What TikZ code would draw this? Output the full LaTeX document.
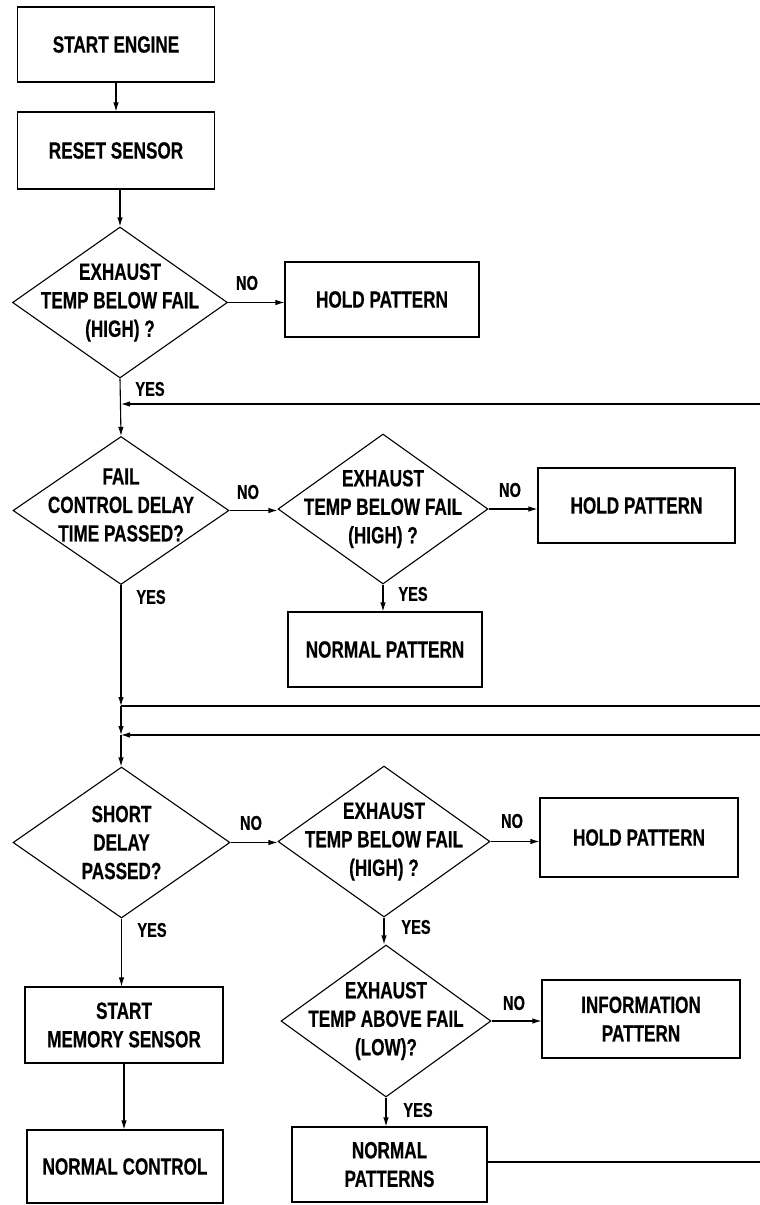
\documentclass[tikz,border=0pt]{standalone}
\usepackage{fontspec}
\setmainfont{Liberation Sans}[FakeStretch=0.73,BoldFeatures={FakeBold=0.4}]
\usetikzlibrary{shapes.geometric,arrows.meta}
\begin{document}
\begin{tikzpicture}[x=1pt,y=-1pt,
  ln/.style={line width=1.1pt},
  arr/.style={ln,-{Latex[length=9pt,width=5.5pt]}},
  box/.style={draw,ln,inner sep=0pt,align=center,font=\fontsize{23.5}{28.5}\selectfont\bfseries},
  dia/.style={draw,ln,shape=diamond,inner sep=0pt},
  txt/.style={align=center,inner sep=0pt,font=\fontsize{23.5}{28.5}\selectfont\bfseries},
  lab/.style={inner sep=0pt,font=\fontsize{20}{22}\selectfont\bfseries}]
\useasboundingbox (0,0) rectangle (760,1205);

% left column
\node[box,minimum width=197pt,minimum height=75pt] (b1) at (116,44.5) {START ENGINE};
\node[box,minimum width=197pt,minimum height=77pt] (b2) at (116,150.5) {RESET SENSOR};
\node[dia,minimum width=215pt,minimum height=151pt] (d1) at (120,302.5) {};
\node[txt] (t1) at (d1) {EXHAUST\\TEMP BELOW FAIL\\(HIGH) ?};
\node[box,minimum width=194pt,minimum height=75pt] (h1) at (382,299.5) {HOLD PATTERN};

\node[dia,minimum width=216pt,minimum height=148pt] (d2) at (121,510.5) {};
\node[txt] (t2) at (121,505) {FAIL\\CONTROL DELAY\\TIME PASSED?};
\node[dia,minimum width=210pt,minimum height=150pt] (d3) at (383,509) {};
\node[txt] (t3) at (d3) {EXHAUST\\TEMP BELOW FAIL\\(HIGH) ?};
\node[box,minimum width=197pt,minimum height=75pt] (h2) at (636.5,505.5) {HOLD PATTERN};
\node[box,minimum width=194pt,minimum height=75pt] (np1) at (385,649.5) {NORMAL PATTERN};

\node[dia,minimum width=217pt,minimum height=151pt] (d4) at (121.5,842.5) {};
\node[txt] (t4) at (d4) {SHORT\\DELAY\\PASSED?};
\node[dia,minimum width=212pt,minimum height=151pt] (d5) at (384,841.5) {};
\node[txt] (t5) at (d5) {EXHAUST\\TEMP BELOW FAIL\\(HIGH) ?};
\node[box,minimum width=198pt,minimum height=79pt] (h3) at (639,837.5) {HOLD PATTERN};

\node[dia,minimum width=210pt,minimum height=152pt] (d6) at (386,1021) {};
\node[txt] (t6) at (d6) {EXHAUST\\TEMP ABOVE FAIL\\(LOW)?};
\node[box,minimum width=198pt,minimum height=78pt] (inf) at (641,1019) {INFORMATION\\PATTERN};

\node[box,minimum width=198pt,minimum height=76pt] (sm) at (124,1025) {START\\MEMORY SENSOR};
\node[box,minimum width=196pt,minimum height=73pt] (nc) at (125,1166.5) {NORMAL CONTROL};
\node[box,minimum width=195pt,minimum height=75pt] (nps) at (389.5,1164.5) {NORMAL\\PATTERNS};

% labels
\node[lab] (l1) at (247,283) {NO};
\node[lab] (l2) at (150,389) {YES};
\node[lab] (l3) at (248,492) {NO};
\node[lab] (l4) at (151,597) {YES};
\node[lab] (l5) at (510,490) {NO};
\node[lab] (l6) at (413,594) {YES};
\node[lab] (l7) at (251,823) {NO};
\node[lab] (l8) at (152,930) {YES};
\node[lab] (l9) at (512,821) {NO};
\node[lab] (l10) at (416,927) {YES};
\node[lab] (l11) at (514,1003) {NO};
\node[lab] (l12) at (418,1110) {YES};

% coordinates for return lines
\coordinate (r1) at (760,404);
\coordinate (r2) at (760,706);
\coordinate (r3) at (760,735);
\coordinate (r4) at (760,1162);
\coordinate (j1) at (121,706);
\coordinate (j2) at (121,735);

% connectors
\draw[arr] (b1.south) -- (b1.south |- b2.north);
\draw[arr] (b2.south -| d1.north) -- (d1.north);
\draw[arr] (d1.east) -- (d1.east -| h1.west);
\draw[arr] (d1.south) -- (d2.north);
\draw[arr] (r1) -- (r1 -| d2.north);
\draw[arr] (d2.east) -- (d2.east -| d3.west);
\draw[arr] (d3.east) -- (d3.east -| h2.west);
\draw[arr] (d3.south) -- (d3.south |- np1.north);
\draw[arr] (d2.south) -- (j1);
\draw[ln] (j1) -- (r2);
\draw[arr] (j1) -- (j2);
\draw[arr] (r3) -- (j2);
\draw[arr] (j2) -- (j2 |- d4.north);
\draw[arr] (d4.east) -- (d4.east -| d5.west);
\draw[arr] (d5.east) -- (d5.east -| h3.west);
\draw[arr] (d5.south) -- (d5.south |- d6.north);
\draw[arr] (d6.east) -- (d6.east -| inf.west);
\draw[arr] (d6.south) -- (d6.south |- nps.north);
\draw[arr] (d4.south) -- (d4.south |- sm.north);
\draw[arr] (sm.south) -- (sm.south |- nc.north);
\draw[ln] (nps.east |- r4) -- (r4);
\end{tikzpicture}
\end{document}
